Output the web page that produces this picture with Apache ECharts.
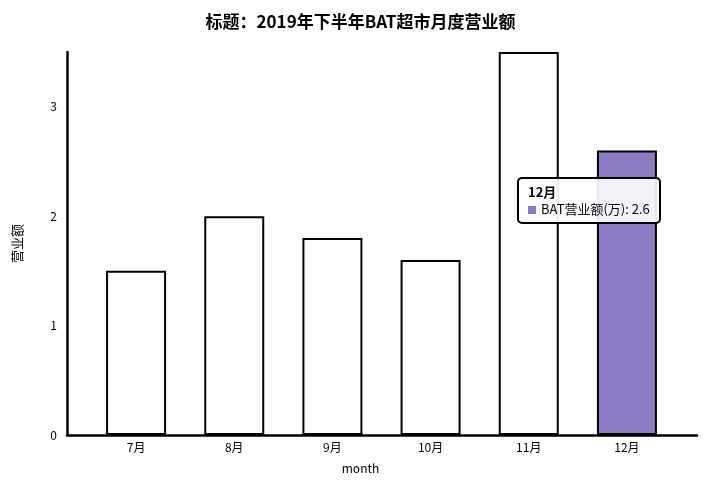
<!DOCTYPE html>
<html><head><meta charset="utf-8">
<script src="https://cdn.jsdelivr.net/npm/echarts@6/dist/echarts.min.js"></script>
<style>html,body{margin:0;padding:0;background:#fff}#c{width:721px;height:482px}</style>
</head><body><div id="c"></div>
<script>
var categories = ['7月','8月','9月','10月','11月','12月'];
var values = [1.5, 2.0, 1.8, 1.6, 3.5, 2.6];
var seriesName = 'BAT营业额(万)';
var yMax = 3.5;
var highlightIndex = 5;
var FONT = '"Noto Sans CJK SC", "Noto Sans", sans-serif';
var chart = echarts.init(document.getElementById('c'));
chart.setOption({
  animation: false,
  title: [
    {text: '标题：2019年下半年BAT超市月度营业额', left: 'center', top: 8,
     textStyle: {fontFamily: FONT, fontSize: 17, fontWeight: 'bold', color: '#000'}},
    {text: 'month', left: 'center', top: 457,
     textStyle: {fontFamily: FONT, fontSize: 12, fontWeight: 'normal', color: '#000'}}
  ],
  grid: [
    {left: 87, right: 45, top: 52, bottom: 47},
    {left: 67, right: 24, top: 52, bottom: 47}
  ],
  xAxis: [
    {type: 'category', data: categories, gridIndex: 0,
     axisLine: {show: false}, axisTick: {show: false},
     axisLabel: {fontFamily: FONT, fontSize: 12, color: '#000', margin: 6}},
    {type: 'value', gridIndex: 1, min: 0, max: 1,
     axisLine: {show: true, lineStyle: {color: '#000', width: 2.5}},
     axisTick: {show: false}, axisLabel: {show: false}, splitLine: {show: false}}
  ],
  yAxis: [
    {type: 'value', gridIndex: 0, min: 0, max: yMax, interval: 1, offset: 20,
     name: '营业额', nameLocation: 'middle', nameGap: 43, nameRotate: 90,
     nameTextStyle: {fontFamily: FONT, fontSize: 13, color: '#000'},
     axisLine: {show: true, lineStyle: {color: '#000', width: 2.5}},
     axisTick: {show: false}, splitLine: {show: false},
     axisLabel: {fontFamily: FONT, fontSize: 12, color: '#000', margin: 10, showMaxLabel: false}},
    {type: 'value', gridIndex: 1, show: false, min: 0, max: 1}
  ],
  tooltip: {
    trigger: 'item', alwaysShowContent: true, triggerOn: 'none',
    backgroundColor: 'rgba(255,255,255,0.9)', borderColor: '#000', borderWidth: 2, borderRadius: 5,
    padding: [4, 9, 5, 9], extraCssText: 'box-shadow:none;',
    position: function () { return [517, 177]; },
    formatter: function (p) {
      return '<div style="font-family:' + FONT.replace(/"/g, "'") + ';font-size:13px;color:#000;line-height:17px">' +
        '<b>' + p.name + '</b><br/>' +
        '<span style="display:inline-block;width:8px;height:8px;background:#8e7cc3;margin-right:5px"></span>' +
        p.seriesName + ': ' + p.value + '</div>';
    }
  },
  series: [{
    type: 'bar', name: seriesName, xAxisIndex: 0, yAxisIndex: 0, barWidth: 60,
    data: values.map(function (v, i) {
      return {value: v, itemStyle: {color: i === highlightIndex ? '#8e7cc3' : '#fff'}};
    }),
    itemStyle: {borderColor: '#000', borderWidth: 2},
    emphasis: {disabled: true}
  }]
});
chart.dispatchAction({type: 'showTip', seriesIndex: 0, dataIndex: highlightIndex});
</script>
</body></html>
